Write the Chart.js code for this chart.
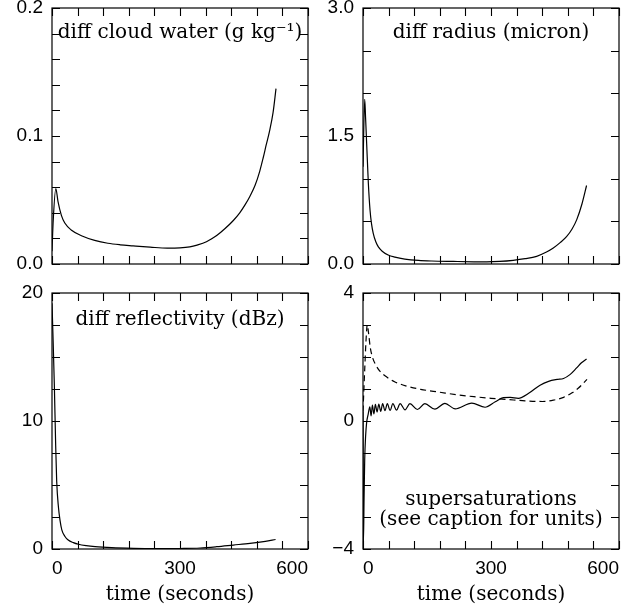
<!DOCTYPE html>
<html>
<head>
<meta charset="utf-8">
<script src="https://cdn.jsdelivr.net/npm/chart.js@4/dist/chart.umd.min.js"></script>
<style>
  html, body { margin: 0; padding: 0; background: #fff; overflow: hidden; }
  #wrap { position: relative; width: 642px; height: 607px; overflow: hidden; }
  #wrap canvas { position: absolute; left: -20px; top: -20px; }
</style>
</head>
<body>
<div id="wrap">
  <canvas id="cloudChart" width="682" height="647"></canvas>
  <canvas id="radiusChart" width="682" height="647"></canvas>
  <canvas id="reflChart" width="682" height="647"></canvas>
  <canvas id="superChart" width="682" height="647"></canvas>
</div>
<script>
// time axis (seconds)
const timeTicks = [0, 60, 120, 180, 240, 300, 360, 420, 480, 540, 600];
const timeLabels = [0, 300, 600];

// diff cloud water (g/kg)
const cloudTime = [0, 3, 9, 14, 22, 30, 45, 69, 100, 131, 160, 190, 230, 270, 300, 323, 340, 362, 386, 405, 425, 440, 452, 464, 476, 487, 495, 502, 510, 518, 525];
const cloudDiff = [0.01, 0.035, 0.059, 0.049, 0.038, 0.032, 0.0266, 0.0221, 0.0185, 0.0162, 0.015, 0.0142, 0.0132, 0.0124, 0.0126, 0.0134, 0.0148, 0.0174, 0.0222, 0.0275, 0.034, 0.040, 0.046, 0.053, 0.0615, 0.0726, 0.083, 0.093, 0.104, 0.118, 0.137];
const cloudTicks = [0, 0.02, 0.04, 0.06, 0.08, 0.1, 0.12, 0.14, 0.16, 0.18, 0.2];
const cloudLabels = [0, 0.1, 0.2];

// diff radius (micron)
const radiusTime = [0, 4, 6, 8.6, 12.5, 16.5, 20, 24, 30, 36, 45, 59, 75, 98, 130, 161, 212, 260, 290, 320, 352, 380, 407, 430, 446, 462, 477, 490, 501, 513, 524];
const radiusDiff = [1.14, 1.93, 1.72, 1.41, 0.95, 0.63, 0.47, 0.36, 0.26, 0.2, 0.15, 0.105, 0.08, 0.058, 0.042, 0.035, 0.03, 0.026, 0.025, 0.03, 0.043, 0.062, 0.09, 0.14, 0.187, 0.25, 0.32, 0.41, 0.52, 0.7, 0.92];
const radiusTicks = [0, 0.5, 1, 1.5, 2, 2.5, 3];
const radiusLabels = [0, 1.5, 3];

// diff reflectivity (dBz)
const reflTime = [0, 2, 5.5, 8.6, 11, 15, 19, 23, 30, 38, 50, 62, 80, 101, 140, 191, 240, 269, 300, 347, 386, 425, 464, 500, 524];
const reflDiff = [19.2, 17, 12.8, 8.1, 5.3, 3.3, 2.2, 1.5, 1.0, 0.7, 0.5, 0.37, 0.26, 0.18, 0.1, 0.05, 0.03, 0.03, 0.04, 0.08, 0.18, 0.31, 0.44, 0.6, 0.74];
const reflTicks = [0, 2.5, 5, 7.5, 10, 12.5, 15, 17.5, 20];
const reflLabels = [0, 10, 20];

// supersaturations: solid and dashed curves
const superTime = [0, 1, 2.5, 4, 6, 8.5, 12, 16, 19, 22, 25.5, 29, 33, 37, 41.5, 46, 51.5, 57, 63.5, 70, 78.5, 87, 98.5, 110, 127.5, 145, 168.5, 192, 216, 255, 286, 310, 329, 345, 364, 390, 415, 435, 455, 470, 485, 500, 512, 524];
const superSolid = [0.3, -3.8, -2.4, -1.2, -0.5, -0.05, 0.2, 0.44, 0.16, 0.5, 0.22, 0.52, 0.28, 0.53, 0.3, 0.54, 0.32, 0.54, 0.33, 0.54, 0.34, 0.54, 0.35, 0.54, 0.36, 0.54, 0.37, 0.55, 0.38, 0.56, 0.43, 0.6, 0.73, 0.74, 0.71, 0.88, 1.12, 1.24, 1.3, 1.33, 1.45, 1.65, 1.82, 1.94];
const dashTime = [0, 4, 7, 10, 13, 17, 22, 30, 40, 55, 75, 100, 135, 180, 220, 260, 300, 340, 380, 420, 446, 470, 490, 505, 525];
const superDashed = [0.3, 1.6, 2.5, 3.0, 2.75, 2.3, 2.0, 1.75, 1.55, 1.38, 1.22, 1.1, 0.99, 0.9, 0.82, 0.76, 0.71, 0.67, 0.63, 0.61, 0.65, 0.74, 0.88, 1.03, 1.3];
const superTicks = [-4, -3, -2, -1, 0, 1, 2, 3, 4];
const superLabels = [-4, 0, 4];

const M = 20; // canvas overhang on each side
const tickFont = { family: "'Liberation Sans', Arial, sans-serif", size: 19 };
const serif = "'DejaVu Serif', serif";

// frame, inward tick marks on all four sides and captions inside the panel
function framePlugin(yTicks, captions) {
    return {
        id: "frame",
        afterDatasetsDraw(chart) {
            const ctx = chart.ctx;
            const a = chart.chartArea;
            const xs = chart.scales.x;
            const ys = chart.scales.y;
            ctx.save();
            ctx.setLineDash([]);
            ctx.strokeStyle = "#000";
            ctx.lineWidth = 1.2;
            ctx.strokeRect(a.left, a.top, a.right - a.left, a.bottom - a.top);

            ctx.lineWidth = 1.1;
            ctx.beginPath();
            // time ticks along top and bottom edges
            timeTicks.forEach(v => {
                const px = Math.round(xs.getPixelForValue(v)) + 0.5;
                ctx.moveTo(px, a.bottom);
                ctx.lineTo(px, a.bottom - 8);
                ctx.moveTo(px, a.top);
                ctx.lineTo(px, a.top + 8);
            });
            // value ticks along left and right edges
            yTicks.forEach(v => {
                const py = Math.round(ys.getPixelForValue(v)) + 0.5;
                ctx.moveTo(a.left, py);
                ctx.lineTo(a.left + 8, py);
                ctx.moveTo(a.right, py);
                ctx.lineTo(a.right - 8, py);
            });
            ctx.stroke();

            ctx.fillStyle = "#000";
            ctx.font = "20px " + serif;
            ctx.textAlign = "center";
            ctx.textBaseline = "middle";
            const cx = (a.left + a.right) / 2;
            captions.forEach(c => {
                const cy = c.top >= 0 ? a.top + c.top : a.bottom + c.top;
                ctx.fillText(c.text, cx, cy);
            });
            ctx.restore();
        }
    };
}

function makePanel(id, cfg) {
    const a = cfg.area;
    const xHeight = cfg.showTime ? 58 : 0;
    const yWidth = 50;
    return new Chart(document.getElementById(id), {
        type: "line",
        data: {
            datasets: cfg.series.map(s => ({
                data: s.t.map((t, i) => ({ x: t, y: s.v[i] })),
                borderColor: "#000",
                borderWidth: 1.2,
                borderDash: s.dash || [],
                pointRadius: 0,
                cubicInterpolationMode: "monotone",
                fill: false
            }))
        },
        options: {
            responsive: false,
            animation: false,
            devicePixelRatio: 1,
            layout: {
                padding: {
                    left: a.left + M - yWidth,
                    top: a.top + M,
                    right: 642 + M - a.right,
                    bottom: 607 + M - a.bottom - xHeight
                }
            },
            plugins: {
                legend: { display: false },
                tooltip: { enabled: false }
            },
            scales: {
                x: {
                    type: "linear",
                    min: 0,
                    max: 600,
                    grid: { display: false, drawTicks: false },
                    border: { display: false },
                    afterBuildTicks: s => { s.ticks = timeLabels.map(v => ({ value: v })); },
                    ticks: {
                        display: cfg.showTime,
                        padding: 8,
                        color: "#000",
                        font: tickFont,
                        maxRotation: 0,
                        autoSkip: false,
                        align: "inner"
                    },
                    title: {
                        display: cfg.showTime,
                        text: "time (seconds)",
                        color: "#000",
                        font: { family: serif, size: 20 },
                        padding: 0
                    },
                    afterFit: s => { s.height = xHeight; }
                },
                y: {
                    type: "linear",
                    min: cfg.yTicks[0],
                    max: cfg.yTicks[cfg.yTicks.length - 1],
                    grid: { display: false, drawTicks: false },
                    border: { display: false },
                    afterBuildTicks: s => { s.ticks = cfg.yLabels.map(v => ({ value: v })); },
                    ticks: {
                        padding: 9,
                        color: "#000",
                        font: tickFont,
                        callback: v => cfg.fmt(v)
                    },
                    afterFit: s => { s.width = yWidth; }
                }
            }
        },
        plugins: [framePlugin(cfg.yTicks, cfg.captions)]
    });
}

makePanel("cloudChart", {
    area: { left: 52, top: 8, right: 308, bottom: 264 },
    showTime: false,
    yTicks: cloudTicks,
    yLabels: cloudLabels,
    fmt: v => v.toFixed(1),
    series: [{ t: cloudTime, v: cloudDiff }],
    captions: [{ text: "diff cloud water (g kg\u207B\u00B9)", top: 25 }]
});

makePanel("radiusChart", {
    area: { left: 363, top: 8, right: 619, bottom: 264 },
    showTime: false,
    yTicks: radiusTicks,
    yLabels: radiusLabels,
    fmt: v => v.toFixed(1),
    series: [{ t: radiusTime, v: radiusDiff }],
    captions: [{ text: "diff radius (micron)", top: 25 }]
});

makePanel("reflChart", {
    area: { left: 52, top: 293, right: 308, bottom: 549 },
    showTime: true,
    yTicks: reflTicks,
    yLabels: reflLabels,
    fmt: v => String(v),
    series: [{ t: reflTime, v: reflDiff }],
    captions: [{ text: "diff reflectivity (dBz)", top: 27 }]
});

makePanel("superChart", {
    area: { left: 363, top: 293, right: 619, bottom: 549 },
    showTime: true,
    yTicks: superTicks,
    yLabels: superLabels,
    fmt: v => (v < 0 ? "\u2212" + Math.abs(v) : String(v)),
    series: [
        { t: superTime, v: superSolid },
        { t: dashTime, v: superDashed, dash: [6, 4] }
    ],
    captions: [
        { text: "supersaturations", top: -49 },
        { text: "(see caption for units)", top: -29 }
    ]
});
</script>
</body>
</html>
